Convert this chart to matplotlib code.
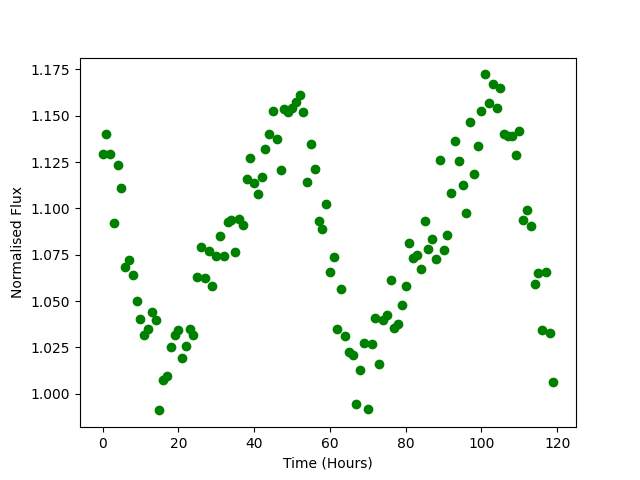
import numpy as np
import matplotlib
matplotlib.use("Agg")
import matplotlib.pyplot as plt

hours = list(range(120))
flux = [
    1.1295, 1.1403, 1.1295, 1.0919, 1.1236, 1.1112, 1.0685, 1.0721, 1.0642, 1.0498,
    1.0405, 1.0318, 1.0351, 1.0439, 1.0399, 0.9910, 1.0076, 1.0093, 1.0254, 1.0315,
    1.0345, 1.0191, 1.0255, 1.0347, 1.0318, 1.0631, 1.0793, 1.0622, 1.0772, 1.0583,
    1.0743, 1.0853, 1.0745, 1.0924, 1.0935, 1.0766, 1.0941, 1.0910, 1.1160, 1.1274,
    1.1139, 1.1079, 1.1171, 1.1322, 1.1399, 1.1527, 1.1376, 1.1209, 1.1534, 1.1522,
    1.1540, 1.1576, 1.1610, 1.1518, 1.1144, 1.1349, 1.1214, 1.0930, 1.0890, 1.1025,
    1.0658, 1.0739, 1.0347, 1.0567, 1.0313, 1.0224, 1.0210, 0.9946, 1.0130, 1.0271,
    0.9915, 1.0266, 1.0410, 1.0162, 1.0397, 1.0423, 1.0615, 1.0356, 1.0378, 1.0480,
    1.0583, 1.0815, 1.0734, 1.0746, 1.0671, 1.0934, 1.0783, 1.0836, 1.0729, 1.1263,
    1.0777, 1.0854, 1.1085, 1.1365, 1.1257, 1.1128, 1.0977, 1.1468, 1.1187, 1.1338,
    1.1527, 1.1723, 1.1567, 1.1669, 1.1543, 1.1651, 1.1399, 1.1392, 1.1392, 1.1290,
    1.1416, 1.0939, 1.0993, 1.0907, 1.0594, 1.0653, 1.0342, 1.0658, 1.0329, 1.0061,
]

fig, ax = plt.subplots(figsize=(6.4, 4.8), dpi=100)
ax.plot(hours, flux, 'o', color='green')
ax.set_xlabel('Time (Hours)')
ax.set_ylabel('Normalised Flux')
fig.savefig('out.png')
